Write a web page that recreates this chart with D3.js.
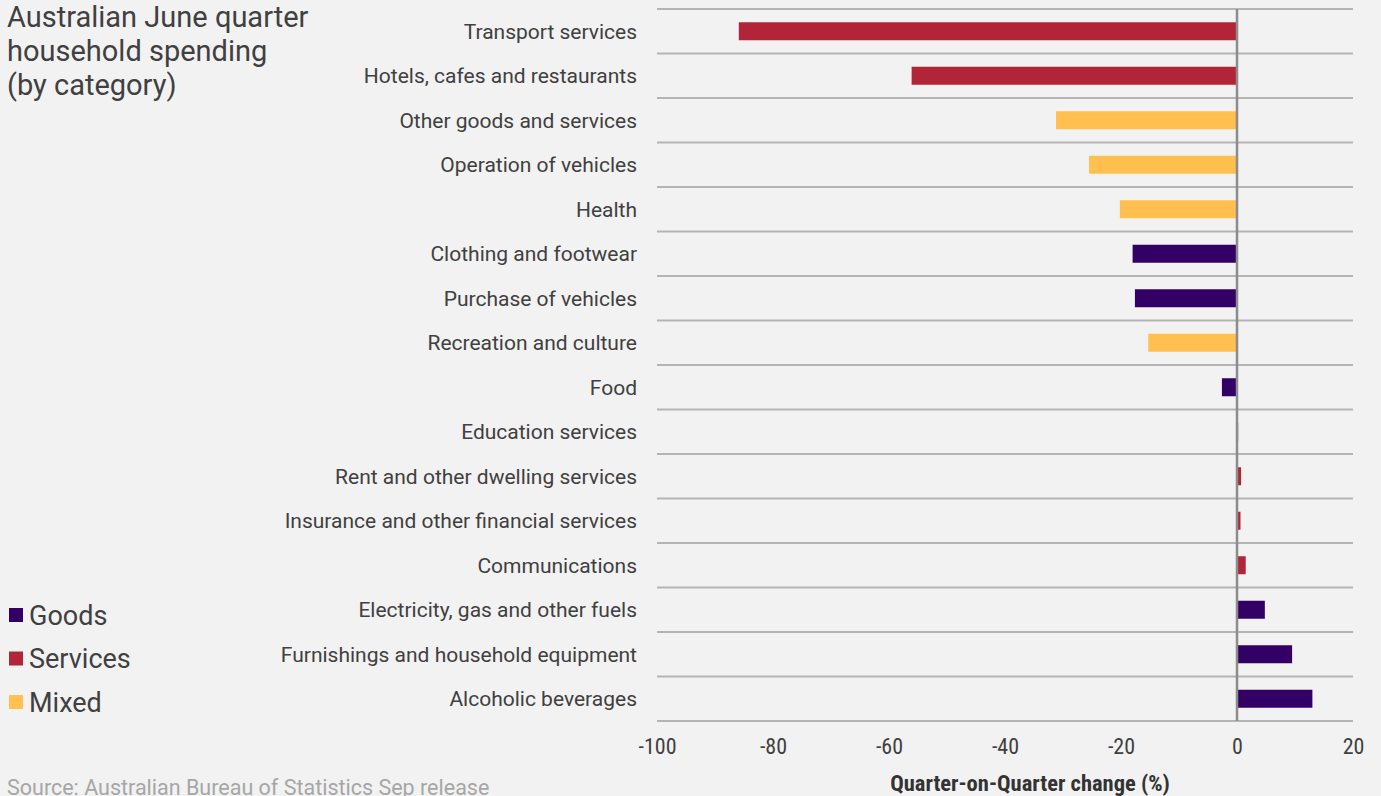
<!DOCTYPE html>
<html>
<head>
<meta charset="utf-8">
<style>
body { margin: 0; background: #f2f2f2; }
svg { display: block; background: #f2f2f2; }
text { font-family: Roboto, "Liberation Sans", sans-serif; fill: #404040; }
.grid line { stroke: #b4b4b4; stroke-width: 2px; }
.tick-label { font-family: "Liberation Sans Narrow", "Roboto Condensed", Roboto, sans-serif; font-size: 22px; fill: #404040; }
</style>
<title></title>
</head>
<body>
<script src="https://cdn.jsdelivr.net/npm/d3@7"></script>
<script>
// categories, top to bottom
var categories = ["Transport services", "Hotels, cafes and restaurants", "Other goods and services",
  "Operation of vehicles", "Health", "Clothing and footwear", "Purchase of vehicles",
  "Recreation and culture", "Food", "Education services", "Rent and other dwelling services",
  "Insurance and other financial services", "Communications", "Electricity, gas and other fuels",
  "Furnishings and household equipment", "Alcoholic beverages"];
var values = [-85.9, -56.1, -31.2, -25.5, -20.2, -18.0, -17.6, -15.3, -2.6, 0.2, 0.7, 0.6, 1.5, 4.8, 9.5, 13.0];
var types = ["Services", "Services", "Mixed", "Mixed", "Mixed", "Goods", "Goods", "Mixed",
  "Goods", "Services", "Services", "Services", "Services", "Goods", "Goods", "Goods"];
var legendKeys = ["Goods", "Services", "Mixed"];
var legendColors = ["#330066", "#b22538", "#ffc04f"];
var xTicks = [-100, -80, -60, -40, -20, 0, 20];

var width = 1381, height = 796;
var svg = d3.select("body").append("svg")
    .attr("width", width)
    .attr("height", height);

var x = d3.scaleLinear().domain([-100, 20]).range([657, 1353]);
var y = d3.scaleBand().domain(categories).range([9, 721]);
var color = d3.scaleOrdinal().domain(legendKeys).range(legendColors);
var barH = 18;

var data = categories.map(function(c, i) {
  return {name: c, value: values[i], type: types[i]};
});
function mid(d) { return y(d.name) + y.bandwidth() / 2; }

// horizontal gridlines between rows
var bounds = categories.map(function(c) { return y(c); }).concat([y.range()[1]]);
svg.append("g").attr("class", "grid")
  .selectAll("line")
  .data(bounds)
  .enter().append("line")
  .attr("x1", x(-100)).attr("x2", x(20))
  .attr("y1", function(d) { return d; })
  .attr("y2", function(d) { return d; });

// bars
svg.append("g")
  .selectAll("rect")
  .data(data)
  .enter().append("rect")
  .attr("x", function(d) { return x(Math.min(0, d.value)); })
  .attr("width", function(d) { return Math.abs(x(d.value) - x(0)); })
  .attr("y", function(d) { return mid(d) - barH / 2; })
  .attr("height", barH)
  .attr("fill", function(d) { return color(d.type); });

// zero line
svg.append("line")
  .attr("x1", x(0)).attr("x2", x(0))
  .attr("y1", 9).attr("y2", 721)
  .attr("stroke", "#8c8c8c")
  .attr("stroke-width", 2.5);

// category labels
svg.append("g")
  .selectAll("text")
  .data(data)
  .enter().append("text")
  .attr("x", 637)
  .attr("y", mid)
  .attr("dy", "0.35em")
  .attr("text-anchor", "end")
  .style("font-size", "21px")
  .text(function(d) { return d.name; });

// x axis tick labels
var xAxis = d3.axisBottom(x).tickValues(xTicks).tickSize(0).tickPadding(0)
  .tickFormat(function(d) { return String(d); });
var ax = svg.append("g").attr("transform", "translate(0,738)").call(xAxis);
ax.select(".domain").remove();
ax.selectAll("text")
  .attr("class", "tick-label")
  .attr("dy", "0.71em")
  .attr("y", 0)
  .attr("fill", "#404040");

svg.append("text")
  .attr("x", 1030)
  .attr("y", 791)
  .attr("text-anchor", "middle")
  .attr("class", "tick-label")
  .style("font-size", "22.5px")
  .style("font-weight", "bold")
  .style("fill", "#333")
  .text("Quarter-on-Quarter change (%)");

// title
var titleLines = ["Australian June quarter", "household spending", "(by category)"];
svg.append("g")
  .selectAll("text")
  .data(titleLines)
  .enter().append("text")
  .attr("x", 7)
  .attr("y", function(d, i) { return 27 + i * 34; })
  .style("font-size", "29px")
  .text(function(d) { return d; });

// legend
var legend = svg.append("g")
  .selectAll("g")
  .data(legendKeys)
  .enter().append("g")
  .attr("transform", function(d, i) { return "translate(9," + (615 + i * 43.5) + ")"; });
legend.append("rect")
  .attr("x", 0).attr("y", -7)
  .attr("width", 14).attr("height", 14)
  .attr("fill", function(d) { return color(d); });
legend.append("text")
  .attr("x", 20)
  .attr("dy", "0.36em")
  .style("font-size", "27px")
  .text(function(d) { return d; });

// source
svg.append("text")
  .attr("x", 7)
  .attr("y", 795)
  .style("font-size", "21.5px")
  .style("fill", "#a6a6a6")
  .text("Source: Australian Bureau of Statistics Sep release");
</script>
</body>
</html>
